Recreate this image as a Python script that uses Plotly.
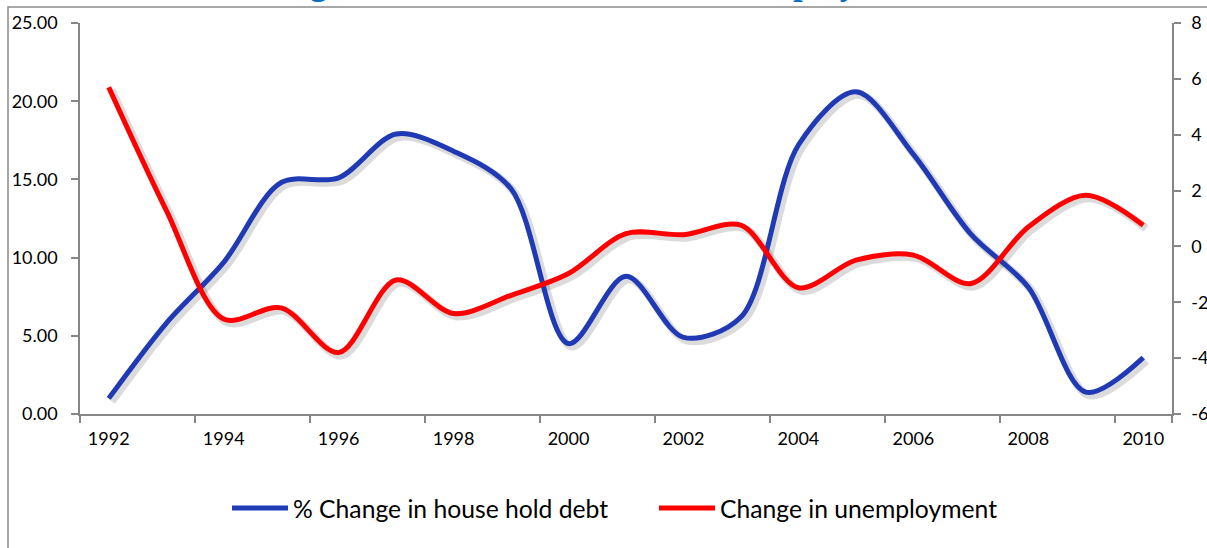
import plotly.graph_objects as go

years = [str(y) for y in range(1992, 2011)]
debt_change = [1.0, 5.8, 9.7, 14.8, 15.1, 17.9, 16.8, 14.4, 4.5, 8.8,
               4.9, 6.2, 17.2, 20.6, 16.6, 11.5, 8.1, 1.4, 3.6]
unemp_change = [5.7, 1.3, -2.6, -2.2, -3.8, -1.2, -2.4, -1.75, -0.97, 0.46,
                0.42, 0.76, -1.48, -0.49, -0.31, -1.33, 0.7, 1.83, 0.76]
left_ticks = [0, 5, 10, 15, 20, 25]
right_ticks = [-6, -4, -2, 0, 2, 4, 6, 8]
right_labels = [str(v) for v in right_ticks]

W, H = 1207, 548
ML, MR, MT, MB = 80, 32, 23, 131
PW = W - ML - MR
PH = H - MT - MB
SH = 3  # shadow offset in px

BLUE = "#1F3AB4"
RED = "#FF0000"
AX = "#868686"
FONT = "Lato"

fig = go.Figure()

# shadows (drawn first, below the lines)
shadow_col = "rgba(0,0,0,0.14)"
fig.add_trace(go.Scatter(x=years, y=debt_change, mode="lines", xaxis="x", yaxis="y",
                         line=dict(color=shadow_col, width=8, shape="spline", smoothing=0.9),
                         showlegend=False, hoverinfo="skip"))
fig.add_trace(go.Scatter(x=years, y=unemp_change, mode="lines", xaxis="x", yaxis="y2",
                         line=dict(color=shadow_col, width=8, shape="spline", smoothing=0.9),
                         showlegend=False, hoverinfo="skip"))

fig.add_trace(go.Scatter(x=years, y=debt_change, mode="lines", xaxis="x2", yaxis="y3",
                         name="% Change in house hold debt",
                         line=dict(color=BLUE, width=5, shape="spline", smoothing=0.9)))
fig.add_trace(go.Scatter(x=years, y=unemp_change, mode="lines", xaxis="x2", yaxis="y4",
                         name="Change in unemployment",
                         line=dict(color=RED, width=5, shape="spline", smoothing=0.9)))

fig.update_layout(
    width=W, height=H,
    margin=dict(l=ML, r=MR, t=MT, b=MB, autoexpand=False),
    paper_bgcolor="white", plot_bgcolor="rgba(0,0,0,0)",
    font=dict(family=FONT, color="black", size=18),
    xaxis=dict(type="category", range=[-0.5, 18.5], domain=[SH / PW, 1], anchor="y",
               visible=False, categoryorder="array", categoryarray=years, automargin=False),
    yaxis=dict(range=[0, 25], domain=[0, 1 - SH / PH], anchor="x", visible=False,
               automargin=False),
    yaxis2=dict(range=[-6, 8], overlaying="y", side="right", anchor="x", visible=False,
                automargin=False),
    xaxis2=dict(type="category", range=[-0.5, 18.5], domain=[0, 1 - SH / PW], anchor="y3",
                categoryorder="array", categoryarray=years, automargin=False,
                showline=True, linecolor=AX, linewidth=1.5, showgrid=False, zeroline=False,
                ticks="outside", tickson="boundaries", ticklen=7, tickcolor=AX, tickwidth=1.5,
                tickfont=dict(size=18, family=FONT), ticklabelstandoff=8,
                tickvals=years[::2], ticktext=years[::2]),
    yaxis3=dict(range=[0, 25], domain=[SH / PH, 1], anchor="x2", automargin=False,
                tickvals=left_ticks, tickformat=".2f",
                showline=True, linecolor=AX, linewidth=1.5, showgrid=False, zeroline=False,
                ticks="outside", ticklen=7, tickcolor=AX, tickwidth=1.5,
                tickfont=dict(size=18, family=FONT), ticklabelstandoff=10),
    yaxis4=dict(range=[-6, 8], overlaying="y3", side="right", anchor="x2", automargin=False,
                tickvals=right_ticks, ticktext=right_labels,
                showline=True, linecolor=AX, linewidth=1.5, showgrid=False, zeroline=False,
                ticks="outside", ticklen=7, tickcolor=AX, tickwidth=1.5,
                tickfont=dict(size=18, family=FONT), ticklabelstandoff=7),
    legend=dict(orientation="h", x=(227 - ML) / PW, xanchor="left", y=-0.232, yanchor="middle",
                font=dict(size=24.7, family=FONT), itemwidth=56, entrywidth=356,
                entrywidthmode="pixels", tracegroupgap=0, bgcolor="rgba(0,0,0,0)"),
    showlegend=True,
)

# outer chart frame (only its left and top edges lie inside the screenshot)
fig.add_shape(type="rect", xref="paper", yref="paper",
              x0=(8 - ML) / PW, x1=(W + 40 - ML) / PW,
              y0=-(H + 40 - MT - PH) / PH, y1=1 + (MT - 7) / PH,
              line=dict(color="#8a8a8a", width=1.5), fillcolor="rgba(0,0,0,0)", layer="below")

# chart title, mostly cut off by the top of the image
fig.add_annotation(text="<b>Change in Household Debt and Unemployment</b>",
                   xref="paper", yref="paper", x=(580 - ML) / PW, xanchor="center",
                   y=1 + (MT - 4) / PH, yanchor="bottom", showarrow=False,
                   font=dict(family="Liberation Serif", size=35, color="#0B6FC1"))

fig.write_html("out.html")
